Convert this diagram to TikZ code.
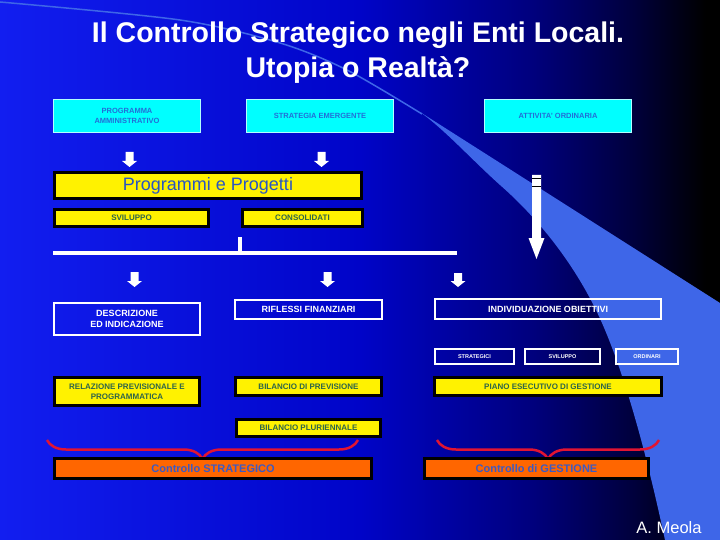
\documentclass[tikz,border=0pt]{standalone}
\usepackage{fontspec}
\setmainfont{Liberation Sans}
\usetikzlibrary{decorations.pathreplacing}

\definecolor{bgleft}{RGB}{18,30,240}
\definecolor{bgmid}{RGB}{0,4,200}
\definecolor{bgdark}{RGB}{0,0,125}
\definecolor{bgnavy}{RGB}{0,0,60}
\definecolor{swoosh}{RGB}{62,102,232}
\definecolor{boxcyan}{RGB}{0,255,255}
\definecolor{cyantext}{RGB}{35,110,215}
\definecolor{progtext}{RGB}{40,85,195}
\definecolor{yeltext}{RGB}{45,100,75}
\definecolor{boxorange}{RGB}{255,102,0}
\definecolor{ortext}{RGB}{60,90,195}
\definecolor{bracered}{RGB}{225,20,50}

\pgfdeclarehorizontalshading{bgfade}{100bp}{color(0bp)=(bgleft); color(25bp)=(bgleft);
  color(50bp)=(bgmid); color(62bp)=(bgdark); color(69bp)=(bgnavy); color(74bp)=(black);
  color(100bp)=(black)}

% block arrow pointing down: x, top, bottom, half shaft, half head, head length
\newcommand{\blockdown}[6]{%
  \fill[white] (#1-#4,#2) -- (#1+#4,#2) -- (#1+#4,#3-#6) -- (#1+#5,#3-#6)
    -- (#1,#3) -- (#1-#5,#3-#6) -- (#1-#4,#3-#6) -- cycle;}

\begin{document}
\begin{tikzpicture}[x=1pt, y=-1pt,
  cyanbox/.style={fill=boxcyan, draw=white!70!boxcyan, line width=1pt, text=cyantext,
    font=\bfseries\fontsize{7.5}{9.5}\selectfont, align=center, inner sep=0pt},
  yelbox/.style={fill=yellow, draw=black, line width=3pt, text=yeltext,
    font=\bfseries\fontsize{8}{10}\selectfont, align=center, inner sep=0pt},
  bluebox/.style={draw=white, line width=2pt, text=white,
    font=\bfseries\fontsize{9}{11.5}\selectfont, align=center, inner sep=0pt},
  smallbox/.style={draw=white, line width=2pt, text=white, minimum height=15pt,
    font=\bfseries\fontsize{5.5}{6}\selectfont, inner sep=0pt},
  orbox/.style={fill=boxorange, draw=black, line width=3pt, text=ortext,
    font=\bfseries\fontsize{11}{13}\selectfont, minimum width=317pt, minimum height=20pt,
    inner sep=0pt},
  redbrace/.style={draw=bracered, line width=2.5pt, decorate,
    decoration={brace, mirror, amplitude=19pt}},
  whiteline/.style={draw=white, line width=4pt}]

  \useasboundingbox (0,0) rectangle (720,540);
  \fill[shading=bgfade] (0,0) rectangle (720,540);

  % swoosh
  \fill[swoosh] (420,112) -- (720,303) -- (720,540) -- (665,540)
    .. controls (650,470) and (630,390) .. (605,330)
    .. controls (580,270) and (540,220) .. (500,185)
    .. controls (470,158) and (445,130) .. (420,112) -- cycle;
  \draw[swoosh, line width=1.5pt] plot[smooth] coordinates
    {(0,2) (180,20) (280,43) (347,70) (422,114)};

  % title
  \node[text=white, font=\bfseries\fontsize{28.5}{32}\selectfont, anchor=base] (title1)
    at (358,43) {Il Controllo Strategico negli Enti Locali.};
  \node[text=white, font=\bfseries\fontsize{28.5}{32}\selectfont, anchor=base] (title2)
    at (358,78) {Utopia o Realtà?};

  % top row
  \node[cyanbox, minimum width=147pt, minimum height=33pt] (progamm) at (127,116)
    {PROGRAMMA\\AMMINISTRATIVO};
  \node[cyanbox, minimum width=147pt, minimum height=33pt] (stratem) at (320,116)
    {STRATEGIA EMERGENTE};
  \node[cyanbox, minimum width=147pt, minimum height=33pt] (attord) at (558,116)
    {ATTIVITA' ORDINARIA};

  \blockdown{129.5}{152}{167}{4}{7.5}{6}
  \blockdown{321.5}{152}{167}{4}{7.5}{6}

  \node[yelbox, text=progtext, font=\fontsize{18}{20}\selectfont,
    minimum width=307pt, minimum height=26pt] (progprog) at (208,185.5)
    {Programmi e Progetti};
  \node[yelbox, minimum width=154pt, minimum height=17pt] (svil) at (131.5,218) {SVILUPPO};
  \node[yelbox, minimum width=120pt, minimum height=17pt] (consol) at (302.5,218)
    {CONSOLIDATI};

  % big arrow from ATTIVITA' ORDINARIA
  \blockdown{536.5}{175}{259}{4.5}{8}{21}
  \draw[black, line width=0.8pt] (532,178.5) -- (541,178.5);
  \draw[black, line width=0.8pt] (532,186) -- (541,186);

  % white bar
  \coordinate (stub) at (240,237);
  \coordinate (barmid) at (240,252.5);
  \coordinate (barl) at (53,252.5);
  \coordinate (barr) at (457,252.5);
  \draw[whiteline] (stub) -- (barmid);
  \draw[whiteline] (barl) -- (barr);

  \blockdown{134.5}{272}{287}{4}{7.5}{6}
  \blockdown{327.5}{272}{287}{4}{7.5}{6}
  \blockdown{458}{273}{287}{4}{7.5}{6}

  % middle row
  \node[bluebox, minimum width=146pt, minimum height=32pt] (descr) at (127,319)
    {DESCRIZIONE\\ED INDICAZIONE};
  \node[bluebox, minimum width=147pt, minimum height=19pt] (rifl) at (308.5,309.5)
    {RIFLESSI FINANZIARI};
  \node[bluebox, minimum width=226pt, minimum height=20pt] (indiv) at (548,309)
    {INDIVIDUAZIONE OBIETTIVI};
  \node[smallbox, minimum width=79pt] (obstrat) at (474.5,356.5) {STRATEGICI};
  \node[smallbox, minimum width=75pt] (obsvil) at (562.5,356.5) {SVILUPPO};
  \node[smallbox, minimum width=62pt] (obord) at (647,356.5) {ORDINARI};

  % documents
  \node[yelbox, minimum width=145pt, minimum height=28pt] (relaz) at (127,391.5)
    {RELAZIONE PREVISIONALE E\\PROGRAMMATICA};
  \node[yelbox, minimum width=146pt, minimum height=18pt] (bilprev) at (308.5,386.5)
    {BILANCIO DI PREVISIONE};
  \node[yelbox, minimum width=227pt, minimum height=18pt] (peg) at (548,386.5)
    {PIANO ESECUTIVO DI GESTIONE};
  \node[yelbox, minimum width=144pt, minimum height=17pt] (bilplur) at (308.5,428)
    {BILANCIO PLURIENNALE};

  % braces
  \coordinate (bsl) at (47,440);
  \coordinate (bsr) at (358,440);
  \coordinate (bgl) at (437,440);
  \coordinate (bgr) at (659,440);
  \draw[redbrace] (bsl) -- (bsr);
  \draw[redbrace] (bgl) -- (bgr);

  \node[orbox] (ctrlstrat) at (213,468.5) {Controllo STRATEGICO};
  \node[orbox, minimum width=224pt] (ctrlgest) at (536.5,468.5) {Controllo di GESTIONE};

  \node[text=white, font=\fontsize{16.5}{18}\selectfont, anchor=base] (author)
    at (669,533) {A. Meola};
\end{tikzpicture}
\end{document}
